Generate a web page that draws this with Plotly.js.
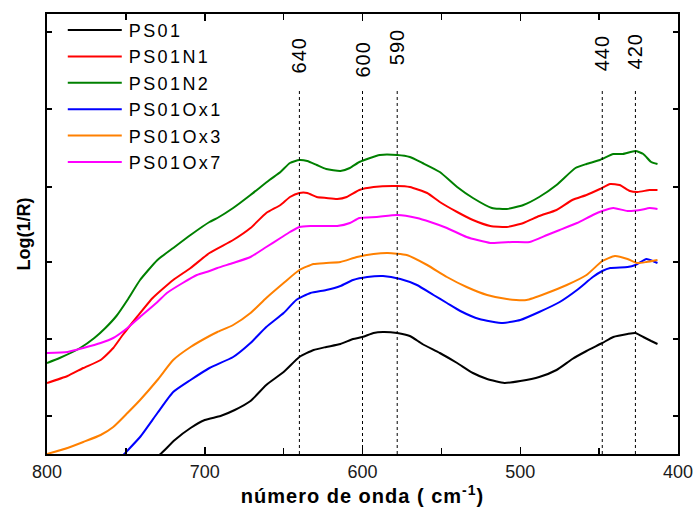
<!DOCTYPE html>
<html>
<head>
<meta charset="utf-8">
<script src="https://cdn.plot.ly/plotly-3.0.1.min.js"></script>
<style>
  html, body { margin: 0; padding: 0; background: #fff; }
  #chart { width: 693px; height: 512px; }
  .legendtext { letter-spacing: 2.4px; }
  .annotation-text { letter-spacing: 1px; }
  .g-xtitle text { letter-spacing: 1px; }
</style>
</head>
<body>
<div id="chart"></div>
<script>
// Series names and colours
const seriesNames = ["PS01", "PS01N1", "PS01N2", "PS01Ox1", "PS01Ox3", "PS01Ox7"];
const seriesColors = ["#000000", "#ff0000", "#008000", "#0000ff", "#ff8000", "#ff00ff"];

// PS01 (black)
const wnPS01 = [734, 728, 719, 709, 700, 690, 681, 671, 661, 650, 640, 631, 623, 614, 606, 600, 593, 587, 578, 570, 562, 551, 540, 530, 521, 510, 500, 488, 477, 467, 458, 448, 441, 432, 427, 422, 417, 413];
const yPS01  = [-7, 0, 14, 26, 34, 38, 44, 53, 69, 82, 97, 104, 107, 110, 115, 117, 121, 122, 121, 118, 110, 101, 91, 81, 75, 71, 73, 77, 84, 95, 103, 111, 117, 120, 121, 117, 113, 110];

// PS01N1 (red)
const wnPS01N1 = [800, 787, 777, 766, 758, 752, 743, 733, 720, 709, 697, 682, 671, 661, 652, 646, 640, 635, 629, 623, 616, 610, 602, 593, 578, 570, 559, 551, 540, 530, 519, 508.5, 498, 488, 477, 467, 458, 449.5, 443, 437, 430.5, 425.5, 418, 413];
const yPS01N1  = [71, 78, 86, 94, 106, 119, 137, 156, 174, 186, 201, 214, 226, 241, 249, 257, 261, 261, 257, 256, 255, 257, 264, 267, 268, 267, 261, 252, 242, 234, 228, 227, 231, 238, 244, 254, 259, 265, 270, 269, 263, 262, 264, 264];

// PS01N2 (green)
const wnPS01N2 = [800, 792, 779, 770, 763, 756, 749, 741, 730, 720, 709, 697, 692, 682, 671, 659, 652, 646, 640, 635, 629, 623, 614, 608, 602, 589, 578, 570, 562, 551, 540, 530, 518, 508.5, 498, 488, 477, 465, 458, 449.5, 441, 435, 427, 422, 417, 413];
const yPS01N2  = [91, 96, 106, 116, 126, 138, 154, 174, 194, 206, 219, 232, 236, 246, 259, 274, 282, 291, 294, 293, 289, 285, 283, 286, 292, 299, 299, 297, 291, 282, 267, 256, 246, 245, 249, 257, 269, 286, 290, 294, 300, 300, 303, 300, 292, 290];

// PS01Ox1 (blue)
const wnPS01Ox1 = [756, 751, 741, 730, 720, 709, 697, 682, 671, 661, 650, 642, 633, 623, 614, 606, 597, 587, 576, 565.5, 555, 546.5, 538, 526, 511, 500, 488, 475, 464, 454, 448, 443, 432, 427, 420, 416, 413];
const yPS01Ox1  = [-9, 0, 17, 41, 62, 74, 86, 97, 111, 127, 141, 154, 161, 164, 168, 174, 177, 178, 175, 169, 159, 151, 143, 135, 131, 134, 142, 152, 164, 177, 183, 186, 187, 189, 195, 193, 191];

// PS01Ox3 (orange)
const wnPS01Ox3 = [800, 787, 777, 766, 758, 749, 741, 730, 720, 709, 697, 692, 682, 671, 661, 650, 640, 631, 623, 614, 603.5, 593, 584, 572, 559, 546.5, 534, 521, 508.5, 496, 483, 470.5, 458, 448, 440, 432, 426, 420, 413];
const yPS01Ox3  = [0, 6, 12, 19, 27, 41, 54, 74, 94, 107, 118, 122, 129, 141, 156, 171, 184, 190, 191, 192, 197, 200, 201, 199, 189, 177, 167, 159, 155, 154, 161, 169, 179, 193, 198, 195, 191, 192, 194];

// PS01Ox7 (magenta)
const wnPS01Ox7 = [800, 787, 777, 766, 758, 749, 741, 730, 724, 714, 705, 697, 692, 682, 671, 661, 652, 646, 640, 633, 625, 616, 608, 602, 591, 578, 565.5, 557, 546.5, 534, 519, 505, 494, 483, 475, 464, 454, 448, 441, 432, 424, 418, 413];
const yPS01Ox7  = [101, 102, 106, 111, 116, 126, 137, 152, 161, 171, 179, 183, 186, 191, 197, 207, 216, 222, 227, 228, 228, 228, 231, 236, 237, 239, 236, 232, 226, 217, 211, 212, 212, 219, 224, 231, 239, 243, 246, 243, 244, 246, 245];

// Marked band positions and their labels
const bandPositions = [640, 600, 578, 448, 427];
const bandLabels = ["640", "600", "590", "440", "420"];

// Axis ticks
const xTickVals = [800, 700, 600, 500, 400];
const xTickText = ["800", "700", "600", "500", "400"];

const wns = [wnPS01, wnPS01N1, wnPS01N2, wnPS01Ox1, wnPS01Ox3, wnPS01Ox7];
const ys = [yPS01, yPS01N1, yPS01N2, yPS01Ox1, yPS01Ox3, yPS01Ox7];

const traces = seriesNames.map((n, i) => ({
  type: "scatter",
  mode: "lines",
  name: n,
  x: wns[i],
  y: ys[i],
  line: { color: seriesColors[i], width: 2, shape: "spline", smoothing: 0.5 }
}));

const labelBottoms = [379, 374, 387, 381, 383];
const shapes = bandPositions.map(p => ({
  type: "line", xref: "x", yref: "y",
  x0: p, x1: p, y0: 0, y1: 366,
  line: { color: "#000", width: 1, dash: "dot" }
}));
const annotations = bandPositions.map((p, i) => ({
  x: p, y: labelBottoms[i], xref: "x", yref: "y",
  text: bandLabels[i], showarrow: false, textangle: -90,
  xanchor: "center", yanchor: "bottom",
  font: { family: "Liberation Sans, Arial, sans-serif", size: 20, color: "#000" }
}));

const layout = {
  width: 693, height: 512,
  margin: { l: 47, r: 15, t: 14, b: 58 },
  paper_bgcolor: "#fff", plot_bgcolor: "#fff",
  showlegend: true,
  legend: {
    x: 0.025, y: 1.005, xanchor: "left", yanchor: "top",
    bgcolor: "rgba(0,0,0,0)",
    itemwidth: 56,
    font: { family: "Liberation Sans, Arial, sans-serif", size: 18, color: "#000" },
    tracegroupgap: 0
  },
  xaxis: {
    range: [800, 400],
    tickvals: xTickVals, ticktext: xTickText,
    ticks: "inside", ticklen: 7, tickwidth: 1.5, tickcolor: "#000",
    ticklabeloverflow: "allow",
    minor: { dtick: 50, tick0: 400, ticks: "inside", ticklen: 6, tickwidth: 1.5, tickcolor: "#000" },
    showline: true, linewidth: 2, linecolor: "#000", mirror: "allticks",
    showgrid: false, zeroline: false,
    tickfont: { family: "Liberation Sans, Arial, sans-serif", size: 18, color: "#1a1a1a" },
    title: {
      text: "<b>número de onda ( cm<sup>-1</sup>)</b>",
      font: { family: "Liberation Sans, Arial, sans-serif", size: 20, color: "#000" },
      standoff: 8
    }
  },
  yaxis: {
    range: [0, 440],
    tickvals: [38, 115, 192, 267, 345, 422],
    showticklabels: false,
    ticks: "inside", ticklen: 5, tickwidth: 1.5, tickcolor: "#000",
    showline: true, linewidth: 2, linecolor: "#000", mirror: "allticks",
    showgrid: false, zeroline: false,
    title: {
      text: "<b>Log(1/R)</b>",
      font: { family: "Liberation Sans, Arial, sans-serif", size: 18, color: "#000" },
      standoff: 10
    }
  },
  shapes: shapes,
  annotations: annotations
};

Plotly.newPlot("chart", traces, layout, { displayModeBar: false, staticPlot: true }).then(gd => {
  // lengthen the legend line samples to match the reference
  gd.querySelectorAll(".legend .legendlines path").forEach(p => p.setAttribute("d", "M5,0h54"));
});
</script>
</body>
</html>
